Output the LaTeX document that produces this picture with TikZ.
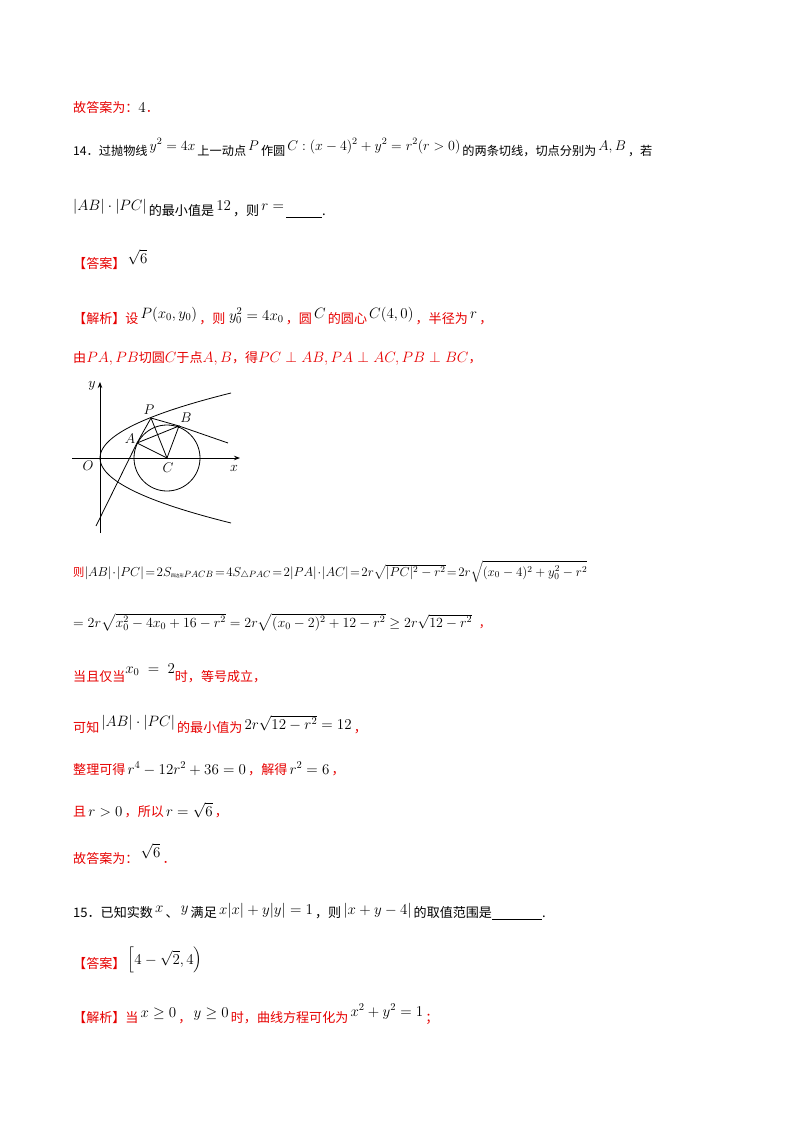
\RequirePackage{fix-cm}
\documentclass[tikz,border=0pt]{standalone}
\usepackage{amsmath}
\usepackage{fontspec}
\setmainfont[Scale=0.87]{Noto Sans CJK SC}
\usetikzlibrary{arrows.meta}
\definecolor{myred}{RGB}{230,0,0}
\tikzset{ln/.style={anchor=base west,inner sep=0pt,font=\fontsize{15}{18}\selectfont},
 lns/.style={ln,font=\fontsize{14}{17}\selectfont},
 lnt/.style={ln,font=\fontsize{13}{16}\selectfont},
 fig/.style={line width=0.8pt},lab/.style={font=\fontsize{14}{14}\selectfont,inner sep=0pt}}
\newcommand{\rd}[1]{\textcolor{myred}{#1}}
\newcommand{\blank}{\underline{\hspace{36pt}}}
\begin{document}
\begin{tikzpicture}[x=1pt,y=-1pt]
\useasboundingbox (0,0) rectangle (800,1132);
\node[ln] (l1) at (73,112) {\rd{故答案为：}$4$\rd{．}};
\node[lns] (l2) at (73,155) {14．过抛物线\,\raisebox{5pt}{$y^2=4x$}\,上一动点\,\raisebox{5pt}{$P$}\,作圆\,\raisebox{5pt}{$C:(x-4)^2+y^2=r^2(r>0)$}\,的两条切线，切点分别为\,\raisebox{5pt}{$A,B$}\,，若};
\node[ln] (l3) at (73,215) {\raisebox{5pt}{$|AB|\cdot|PC|$}\,的最小值是\,\raisebox{5pt}{$12$}\,，则\,\raisebox{5pt}{$r=$}\,\blank.};
\node[ln] (l4) at (73,268) {\rd{【答案】}\,\raisebox{5pt}{$\sqrt{6}$}};
\node[ln] (l5) at (73,323) {\rd{【解析】设}\,\raisebox{5pt}{$P(x_0,y_0)$}\,\rd{，则}\;\raisebox{3pt}{$y_0^2=4x_0$}\,\rd{，圆}\,\raisebox{5pt}{$C$}\,\rd{的圆心}\,\raisebox{5pt}{$C(4,0)$}\,\rd{，半径为}\,\raisebox{5pt}{$r$}\,\rd{，}};
\node[ln] (l6) at (73,362) {\rd{由$PA,PB$切圆$C$于点$A,B$，得$PC\perp AB,PA\perp AC,PB\perp BC$，}};
% figure
\draw[fig,-{Stealth[length=6pt]}] (72,458) -- (240,458);
\draw[fig,-{Stealth[length=6pt]}] (100,533) -- (100,382);
\draw[fig,domain=-65:65,samples=60] plot ({100+0.031*\x*\x},{458-\x});
\coordinate (P) at (151,418); \coordinate (B) at (179,426);
\coordinate (A) at (137,443); \coordinate (C) at (167,458);
\coordinate (T1) at (228,443); \coordinate (T2) at (96,526);
\draw[fig] (C) circle (33);
\draw[fig] (P) -- (B) -- (T1);
\draw[fig] (P) -- (A) -- (T2);
\draw[fig] (A) -- (B) -- (C) -- (A); \draw[fig] (P) -- (C);
\node[lab] (ly) at (92,386) {$y$}; \node[lab] (lP) at (149,410) {$P$};
\node[lab] (lB) at (186,418) {$B$}; \node[lab] (lA) at (130,439) {$A$};
\node[lab] (lO) at (88,466) {$O$}; \node[lab] (lC) at (168,468) {$C$};
\node[lab] (lx) at (234,468) {$x$};
\node[lnt] (l7) at (73,576) {\rd{则}$|AB|\!\cdot\!|PC|\!=\!2S_{\text{\tiny 四边形}PACB}\!=\!4S_{\triangle PAC}\!=\!2|PA|\!\cdot\!|AC|\!=\!2r\sqrt{|PC|^2-r^2}\!=\!2r\sqrt{(x_0-4)^2+y_0^2-r^2}$};
\node[lns] (l8) at (73,627) {$=2r\sqrt{x_0^2-4x_0+16-r^2}=2r\sqrt{(x_0-2)^2+12-r^2}\geq 2r\sqrt{12-r^2}$\;\;\rd{，}};
\node[ln] (l9) at (73,681) {\rd{当且仅当}\raisebox{8pt}{$x_0\;=\;2$}\rd{时，等号成立，}};
\node[ln] (l10) at (73,732) {\rd{可知}\,\raisebox{6pt}{$|AB|\cdot|PC|$}\,\rd{的最小值为}\,\raisebox{3pt}{$2r\sqrt{12-r^2}=12$}\,\rd{，}};
\node[ln] (l11) at (73,774) {\rd{整理可得}\,$r^4-12r^2+36=0$\,\rd{，解得}\,$r^2=6$\,\rd{，}};
\node[ln] (l12) at (73,816) {\rd{且}\,$r>0$\,\rd{，所以}\,$r=\sqrt{6}$\,\rd{，}};
\node[ln] (l13) at (73,863) {\rd{故答案为：}\,\raisebox{6pt}{$\sqrt{6}$}\,\rd{．}};
\node[ln] (l14) at (73,917) {15．已知实数\,\raisebox{5pt}{$x$}\,、\,\raisebox{5pt}{$y$}\,满足\,\raisebox{3pt}{$x|x|+y|y|=1$}\,，则\,\raisebox{3pt}{$|x+y-4|$}\,的取值范围是\underline{\hspace{50pt}}.};
\node[ln] (l15) at (73,968) {\rd{【答案】}\,\raisebox{4pt}{$\left[4-\sqrt{2},4\right)$}};
\node[ln] (l16) at (73,1022) {\rd{【解析】当}\,\raisebox{5pt}{$x\geq0$}\,\rd{，}\,\raisebox{5pt}{$y\geq0$}\,\rd{时，曲线方程可化为}\,\raisebox{6pt}{$x^2+y^2=1$}\,\rd{；}};
\end{tikzpicture}
\end{document}
